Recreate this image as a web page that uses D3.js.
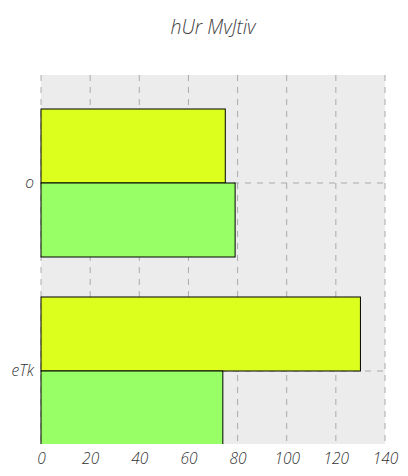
<!DOCTYPE html>
<html><head><meta charset="utf-8">
<script src="https://cdn.jsdelivr.net/npm/d3@7"></script>
<style>body{margin:0;background:#fff;} text{font-family:"Open Sans", sans-serif;font-style:italic;font-weight:300;}</style>
</head><body>
<script>
const title = "hUr MvJtiv";
const categories = ["o", "eTk"];
const seriesNames = ["s1", "s2"];
const seriesYellow = [75, 130];
const seriesGreen = [79, 74];
const seriesColors = ["#dcff1e", "#99ff66"];
const xTicks = [0, 20, 40, 60, 80, 100, 120, 140];

const W = 408, H = 476;
const mLeft = 41, mRight = 385, mTop = 75, mBottom = 444;
const svg = d3.select("body").append("svg").attr("width", W).attr("height", H);

const x = d3.scaleLinear().domain([0, 140]).range([mLeft, mRight]);
const y = d3.scaleBand().domain(categories).range([89, 465]).padding(0);
const ys = d3.scaleBand().domain(seriesNames).range([20, y.bandwidth() - 20]).padding(0);

svg.append("rect").attr("x", mLeft).attr("y", mTop).attr("width", mRight - mLeft).attr("height", mBottom - mTop).attr("fill", "#ececec");

svg.append("defs").append("clipPath").attr("id", "clip").append("rect")
  .attr("x", mLeft - 1).attr("y", mTop).attr("width", mRight - mLeft + 2).attr("height", mBottom - mTop);

const grid = svg.append("g");
grid.selectAll("line.v").data(xTicks).join("line")
  .attr("x1", d => x(d)).attr("x2", d => x(d)).attr("y1", mTop).attr("y2", mBottom)
  .attr("stroke", "#aaaaaa").attr("stroke-dasharray", "6,6");
grid.selectAll("line.h").data(categories).join("line")
  .attr("x1", mLeft).attr("x2", mRight).attr("y1", d => y(d) + y.bandwidth() / 2).attr("y2", d => y(d) + y.bandwidth() / 2)
  .attr("stroke", "#aaaaaa").attr("stroke-dasharray", "6,6");

const data = [];
categories.forEach((c, i) => {
  data.push({c, s: "s1", v: seriesYellow[i], color: seriesColors[0]});
  data.push({c, s: "s2", v: seriesGreen[i], color: seriesColors[1]});
});
svg.append("g").attr("clip-path", "url(#clip)").selectAll("rect").data(data).join("rect")
  .attr("x", x(0)).attr("y", d => y(d.c) + ys(d.s)).attr("width", d => x(d.v) - x(0)).attr("height", ys.bandwidth())
  .attr("fill", d => d.color).attr("stroke", "#000").attr("stroke-width", 1);

const yAxis = svg.append("g").attr("transform", `translate(${mLeft},0)`)
  .call(d3.axisLeft(y).tickSize(0).tickPadding(7));
yAxis.select(".domain").remove();
yAxis.selectAll("text").attr("font-size", 15.5).attr("fill", "#333");

const xAxis = svg.append("g").attr("transform", `translate(0,${mBottom})`)
  .call(d3.axisBottom(x).tickValues(xTicks).tickSize(0).tickPadding(9));
xAxis.select(".domain").remove();
xAxis.selectAll("text").attr("font-size", 15.5).attr("fill", "#333");

svg.append("text").attr("x", (mLeft + mRight) / 2).attr("y", 34).attr("text-anchor", "middle")
  .attr("font-size", 19.5).attr("fill", "#444").text(title);
</script>
</body></html>
